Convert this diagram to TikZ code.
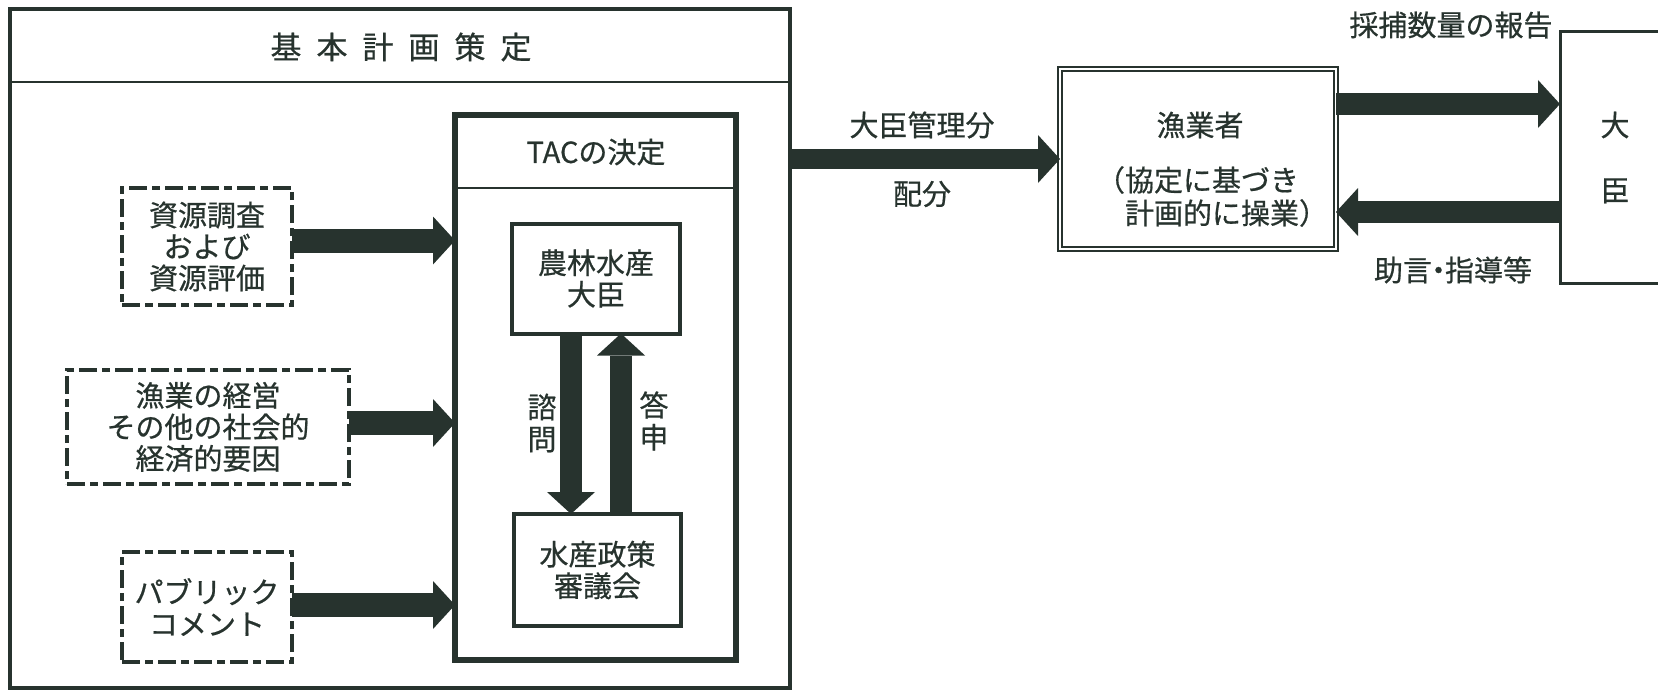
\documentclass[tikz,border=0pt]{standalone}
\usepackage{fontspec}
\setmainfont{Noto Sans CJK JP}[FakeBold=0.6]
\usetikzlibrary{arrows.meta,calc}
\definecolor{ink}{HTML}{27332E}
\begin{document}
\begin{tikzpicture}[x=1pt,y=-1pt,
  every node/.style={inner sep=0pt, outer sep=0pt, text=ink},
  jp/.style={font=\fontsize{29}{31.5}\selectfont, align=center},
  frame/.style={draw=ink, line width=#1, rectangle},
  dbox/.style={draw=ink, line width=4pt, dash pattern=on 18pt off 5pt on 8pt off 5pt, rectangle, jp},
  fat/.style={draw=ink, line width=#1, -{Triangle[length=22pt,width=48pt,line width=0pt]}},
  fat/.default=22pt,
  rule/.style={draw=ink, line width=2pt}
]
\useasboundingbox (0,0) rectangle (1658,693);

% outer frame
\node[frame=4.5pt, minimum width=780pt, minimum height=679pt] (kihon) at (400,348.5) {};
\node[font=\fontsize{31}{31}\selectfont] (title) at (401,47) {基\hspace{15pt}本\hspace{15pt}計\hspace{15pt}画\hspace{15pt}策\hspace{15pt}定};
\draw[rule] (kihon.west |- 0,82) -- (kihon.east |- 0,82);

% TAC box
\node[frame=6pt, minimum width=281pt, minimum height=545pt] (tac) at (595.5,387.5) {};
\draw[rule] (tac.west |- 0,188) -- (tac.east |- 0,188);
\node[jp] (tactitle) at (596,152) {TACの決定};

\node[frame=4pt, minimum width=168pt, minimum height=110pt, jp] (nourin) at (596,278.5) {農林水産\\大臣};
\node[frame=4pt, minimum width=167pt, minimum height=112pt, jp] (suisan) at (597.5,570) {水産政策\\審議会};

\draw[fat] (nourin.south -| 571,0) -- (suisan.north -| 571,0);
\draw[fat] (suisan.north -| 621,0) -- (nourin.south -| 621,0);
\node[jp, font=\fontsize{29}{32}\selectfont] (shimon) at (542,423) {諮\\問};
\node[jp, font=\fontsize{29}{32}\selectfont] (toushin) at (654,421) {答\\申};

% dashed input boxes
\node[dbox, minimum width=170pt, minimum height=117pt] (d1) at (207,246.5) {資源調査\\および\\資源評価};
\node[dbox, minimum width=282pt, minimum height=114pt] (d2) at (208,427) {漁業の経営\\その他の社会的\\経済的要因};
\node[dbox, minimum width=170pt, minimum height=110pt, font=\fontsize{29}{32}\selectfont] (d3) at (207,607) {パブリック\\コメント};

\draw[fat=24pt] ($(d1.east)+(0,-6)$) -- ($(d1.east -| tac.west)+(0,-6)$);
\draw[fat=24pt] ($(d2.east)+(0,-4)$) -- ($(d2.east -| tac.west)+(0,-4)$);
\draw[fat=24pt] ($(d3.east)+(0,-2)$) -- ($(d3.east -| tac.west)+(0,-2)$);

% fishers
\node[draw=ink, line width=1.6pt, double, double distance=2.5pt, minimum width=276pt, minimum height=180pt] (gyo) at (1198,159) {};
\node[jp] (gyotxt) at (1200,125) {漁業者};
\node[jp, align=left, anchor=west, font=\fontsize{29}{33}\selectfont] (gyosub) at (1125,196.5) {\hspace*{-29pt}（協定に基づき\\計画的に操業）};

\draw[fat=20pt] (gyo.west -| kihon.east) -- (gyo.west);
\node[jp] (kanri) at (922,125) {大臣管理分};
\node[jp] (haibun) at (922,194) {配分};

% minister
\node[frame=3pt, minimum width=110pt, minimum height=251pt, jp, font=\fontsize{29}{65}\selectfont] (daijin) at (1615,157.5) {大\\臣};

\draw[fat=22pt] (gyo.east |- 0,104) -- (daijin.west |- 0,104);
\draw[fat=22pt] (daijin.west |- 0,212) -- (gyo.east |- 0,212);
\node[jp] (houkoku) at (1451,25) {採捕数量の報告};
\node[jp] (jogen) at (1453,270) {助言\kern-8pt・\kern-8pt指導等};
\end{tikzpicture}
\end{document}
